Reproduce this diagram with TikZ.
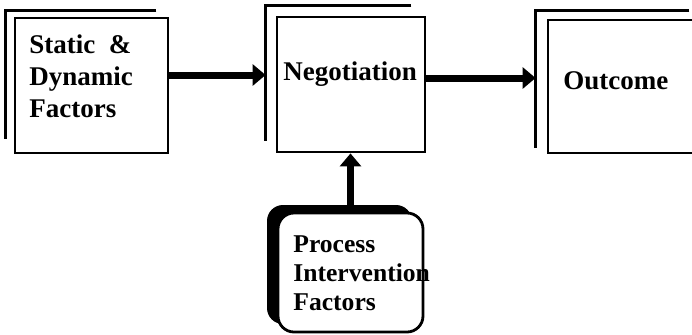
\documentclass[tikz,border=0pt]{standalone}
\usepackage{fontspec}
\setmainfont{Liberation Serif}
\usetikzlibrary{arrows.meta,calc,shadows}

\tikzset{
  stage/.style={draw, line width=1.4pt, fill=white, inner sep=0pt},
  backline/.style={line width=1.2pt},
  factorbox/.style={draw, line width=1.4pt, fill=white, inner sep=0pt, rounded corners=8pt,
    drop shadow={shadow xshift=-5.5pt, shadow yshift=4pt, fill=black, opacity=1}},
  boxtext/.style={anchor=north west, inner sep=0pt, align=left,
    font=\bfseries\fontsize{13.5}{16}\selectfont},
  flow/.style={line width=3.5pt, -{Triangle[length=6.5pt,width=10.5pt]}},
}

\begin{document}
\begin{tikzpicture}[x=0.5pt,y=-0.5pt]
  \useasboundingbox (0,0) rectangle (692,334);
  \clip (0,0) rectangle (692,334);

  % the three stages
  \node[stage, minimum width=76.5pt, minimum height=67.5pt] (sdf) at (91.5,85.5) {};
  \node[stage, minimum width=74pt, minimum height=67.5pt] (neg) at (351,84.5) {};
  \node[stage, minimum width=78.5pt, minimum height=66.5pt] (out) at (626.5,86.5) {};
  \node[factorbox, minimum width=72.5pt, minimum height=59.5pt] (proc) at (350.5,272.5) {};

  % frames behind the stages
  \foreach \b/\dx/\dy/\ex/\ey in {sdf/8/6/13/15, neg/10/10/15/12, out/11/8/17/6}
    \draw[backline] ($(\b.north east)+(-\ex,-\dy)$) -| ($(\b.south west)+(-\dx,-\ey)$);

  \node[boxtext] (sdftext) at (29,34) {Static~~\&\\Dynamic\\Factors};
  \node[boxtext] (negtext) at (283,61) {Negotiation};
  \node[boxtext] (outtext) at (563,71) {Outcome};
  \node[boxtext, font=\bfseries\fontsize{12.8}{14.5}\selectfont] (proctext) at (293,235)
    {Process\\Intervention\\Factors};

  % arrows
  \draw[flow] (sdf.east |- 0,75) -- ($(neg.west |- 0,75)+(-10,0)$);
  \draw[flow] (neg.east |- 0,78) -- ($(out.west |- 0,78)+(-11,0)$);
  \draw[flow] (proc.north) -- (proc.north |- neg.south);
\end{tikzpicture}
\end{document}
